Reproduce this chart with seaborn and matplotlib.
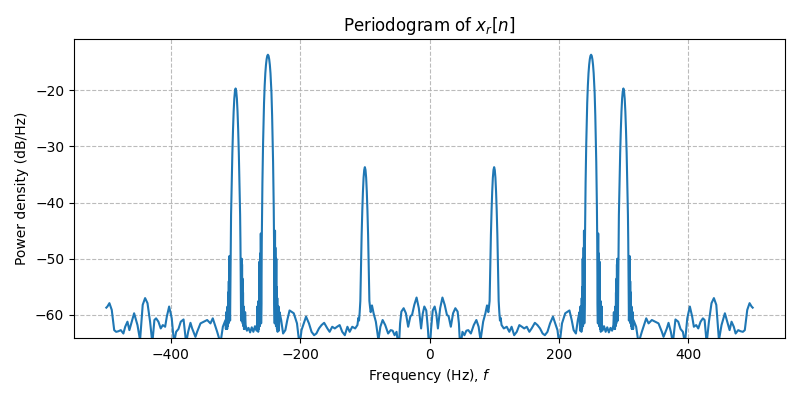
import matplotlib
matplotlib.use("Agg")
import matplotlib.pyplot as plt
import seaborn as sns
import pandas as pd

# Positive-frequency half of the periodogram (Hz, dB/Hz).
# The spectrum of the real signal is symmetric, the negative half mirrors it.
freq_pos = [
    # noise floor 0-92 Hz
    0, 2.5, 5, 8, 10.5, 13, 16.5, 20, 23.5, 27, 29.5, 33, 36.5, 40, 43.5, 45.5,
    47.5, 51, 54, 57, 60, 64, 68.5, 72.5, 76, 79, 83, 86.5, 89, 91, 92,
    # 100 Hz tone
    93, 94, 95, 96, 97, 98, 99, 100, 101, 102, 103, 104, 105, 106, 107, 108, 109, 110,
    # noise floor 111-232 Hz
    111.5, 115, 119.5, 123.5, 127, 131, 135, 139, 143, 146.5, 150.5, 154.5, 158,
    163, 167, 171, 175, 178.5, 182.5, 186.5, 191, 194.5, 198, 201, 205, 210,
    216.5, 220, 223, 226.5, 229.5, 232,
    # 250 Hz tone with its skirts
    233, 233.5, 234, 234.5, 235, 235.5, 236, 236.5, 236.75, 237, 237.5, 238, 238.25, 238.5,
    238.75, 239, 239.5, 240, 240.5,
    241, 241.5, 242, 242.5, 243, 243.5, 244, 244.5, 245, 246, 247, 248, 249, 250,
    251, 252, 253, 254, 255, 255.5, 256, 256.5, 257, 257.5, 258, 258.5, 259,
    259.5, 260, 260.5, 261, 261.25, 261.5, 261.75, 262, 262.5, 263, 263.25, 263.5,
    264, 264.5, 265, 265.5, 266, 266.5, 267,
    # noise floor 267-286 Hz
    267.5, 270, 272.5, 275, 277.5, 280, 282.5, 284.5, 285.25, 286,
    # 300 Hz tone with its skirts
    286.5, 287, 287.5, 288, 288.5, 289, 289.5, 289.75, 290, 290.25, 290.5, 291,
    291.5, 292, 292.5,
    293, 294, 295, 296, 297, 298, 299, 300, 301, 302, 303, 304, 305, 306, 307,
    307.5, 308, 308.5, 309, 309.5, 309.75, 310, 310.25, 310.5, 311, 311.5, 312,
    312.5, 313, 313.5, 314, 314.5, 315,
    # noise floor 315-500 Hz
    315.6, 319.7, 323.4, 328.5, 335.3, 338.9, 344, 349.2, 354.3, 359.5, 362.1,
    367.2, 369.8, 373.4, 376.5, 380.5, 384.8, 388.4, 392, 395.2, 398.8, 402.8,
    406.4, 409, 412.6, 415.8, 419.4, 423, 425.6, 428.8, 432.3, 436.3, 440, 443.7,
    447.8, 451.8, 457, 460.6, 464.3, 467.3, 470.8, 473.6, 477.6, 481.3, 484.8,
    487.8, 491.6, 495.2, 498.3, 500,
]
power_pos = [
    # noise floor 0-92 Hz
    -67.0, -62.4, -59.2, -58.5, -59.8, -62.4, -58.8, -56.9, -58.2, -60.0, -60.2, -62.1, -59.7, -58.8, -59.4, -61.5,
    -66.0, -63.0, -63.6, -62.8, -62.7, -63.3, -61.8, -60.9, -62.1, -64.5, -61.2, -59.7, -58.3, -59.5, -58.6,
    # 100 Hz tone
    -57.5, -51.2, -45.8, -41.5, -38.1, -35.6, -34.2, -33.7, -34.2, -35.6, -38.1, -41.5, -45.8, -51.2, -57.5, -59.5, -61.0, -60.5,
    # noise floor 111-232 Hz
    -61.8, -62.4, -62.1, -63.0, -62.1, -63.6, -63.0, -61.8, -62.1, -62.4, -62.1, -63.0, -62.4,
    -61.4, -61.8, -62.4, -63.3, -63.6, -63.0, -61.5, -60.3, -61.5, -62.7, -65.5, -61.5, -59.7,
    -59.2, -60.9, -62.7, -63.3, -60.9, -59.5,
    # 250 Hz tone with its skirts
    -62.8, -58.5, -62.5, -59.0, -63.0, -57.0, -62.5, -55.0, -61.5, -50.0, -62.0, -52.0, -61.5, -48.0,
    -60.0, -45.0, -61.5, -58.0, -47.0,
    -40.8, -36.5, -32.8, -29.6, -27.0, -24.5, -22.3, -20.5, -19.2, -17.0, -15.5, -14.5, -13.9, -13.7,
    -13.9, -14.5, -15.5, -17.0, -19.2, -20.5, -22.3, -24.5, -27.0, -29.6, -32.8, -36.5, -40.8,
    -47.0, -58.0, -61.5, -45.5, -60.5, -49.0, -61.5, -51.5, -62.0, -50.5, -61.5, -54.5,
    -62.5, -57.5, -63.0, -59.5, -62.5, -58.5, -62.8,
    # noise floor 267-286 Hz
    -62.8, -62.0, -63.0, -62.2, -63.1, -62.3, -62.8, -61.8, -59.5, -62.5,
    # 300 Hz tone with its skirts
    -60.0, -62.5, -58.5, -62.0, -56.0, -61.5, -53.5, -61.0, -51.0, -60.0, -50.0, -58.0,
    -61.0, -55.0, -47.0,
    -42.2, -36.3, -31.2, -27.1, -23.8, -21.5, -20.2, -19.7, -20.2, -21.5, -23.8, -27.1, -31.2, -36.3, -42.2,
    -47.0, -55.0, -61.0, -58.0, -49.5, -60.0, -51.5, -61.0, -54.0, -61.5, -56.0, -62.0,
    -58.5, -62.5, -60.0, -62.5, -59.5, -62.5,
    # noise floor 315-500 Hz
    -60.9, -62.1, -65.0, -63.0, -60.6, -61.5, -60.9, -61.2, -61.5, -63.0, -63.9,
    -62.4, -61.4, -63.0, -65.0, -60.8, -61.2, -62.5, -63.0, -65.0, -60.6, -58.5,
    -60.3, -62.1, -61.8, -62.4, -61.2, -60.6, -60.9, -65.0, -61.2, -57.9, -57.0, -58.2,
    -64.5, -61.8, -59.7, -61.2, -62.7, -61.2, -62.1, -63.3, -62.7, -62.9, -63.0,
    -62.7, -59.1, -57.9, -58.5, -58.7,
]
assert len(freq_pos) == len(power_pos)

x_ticks = [-400, -200, 0, 200, 400]
y_ticks = [-60, -50, -40, -30, -20]

# Full two-sided spectrum
freq = [-f for f in reversed(freq_pos[1:])] + freq_pos
power = list(reversed(power_pos[1:])) + power_pos
df = pd.DataFrame({"f": freq, "p": power})

fig, ax = plt.subplots(figsize=(8, 4), dpi=100)
fig.subplots_adjust(left=0.0925, right=0.98125, top=0.9025, bottom=0.155)

sns.lineplot(data=df, x="f", y="p", ax=ax, color="#1f77b4", linewidth=1.5,
             sort=False, estimator=None)

ax.set_xlim(-550, 550)
ax.set_ylim(-64.1, -10.9)
ax.set_xticks(x_ticks)
ax.set_yticks(y_ticks)
ax.grid(True, linestyle="--", color="#b0b0b0", linewidth=0.8, alpha=0.85)
ax.set_title("Periodogram of $x_r[n]$", fontsize=12)
ax.set_xlabel("Frequency (Hz), $f$", fontsize=10)
ax.set_ylabel("Power density (dB/Hz)", fontsize=10)
for s in ax.spines.values():
    s.set_color("black")
    s.set_linewidth(0.8)

fig.savefig("out.png", dpi=100)
